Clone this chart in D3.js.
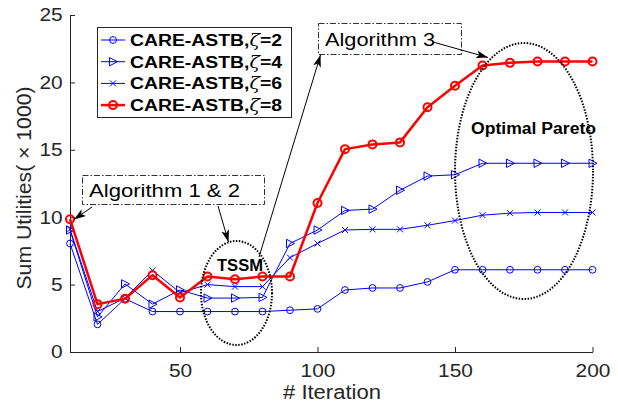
<!DOCTYPE html>
<html>
<head>
<meta charset="utf-8">
<script src="https://cdn.jsdelivr.net/npm/d3@7"></script>
<style>
  body { margin: 0; background: #fff; }
  text { font-family: "Liberation Sans", Arial, Helvetica, sans-serif; }
</style>
</head>
<body>
<div id="chart"></div>
<script>
// iterations on the x axis
var iterations = [10, 20, 30, 40, 50, 60, 70, 80, 90, 100, 110, 120, 130, 140, 150, 160, 170, 180, 190, 200];

// sum utilities (x 1000) per zeta
var zeta2 = [8.05, 2.05, 3.95, 3.0, 3.0, 3.0, 3.0, 3.0, 3.1, 3.2, 4.6, 4.75, 4.75, 5.2, 6.1, 6.1, 6.1, 6.1, 6.1, 6.1];
var zeta4 = [9.05, 2.6, 5.05, 3.55, 4.6, 4.0, 4.0, 4.05, 8.05, 9.05, 10.5, 10.6, 12.0, 13.05, 13.15, 14.0, 14.0, 14.0, 14.0, 14.0];
var zeta6 = [9.1, 3.0, 4.0, 6.05, 4.4, 5.0, 4.85, 4.85, 7.0, 8.05, 9.05, 9.1, 9.1, 9.4, 9.75, 10.15, 10.3, 10.35, 10.35, 10.35];
var zeta8 = [9.85, 3.55, 3.95, 5.7, 4.05, 5.6, 5.4, 5.6, 5.6, 11.05, 15.05, 15.4, 15.55, 18.15, 19.75, 21.25, 21.45, 21.55, 21.55, 21.55];

var xTicks = [50, 100, 150, 200];
var yTicks = [0, 5, 10, 15, 20, 25];
var seriesNames = ["2", "4", "6", "8"];

var W = 618, H = 404;
var axisColor = "#262626";

var svg = d3.select("#chart")
    .append("svg")
    .attr("width", W)
    .attr("height", H);

var defs = svg.append("defs");
defs.append("marker")
    .attr("id", "arrow")
    .attr("markerUnits", "userSpaceOnUse")
    .attr("viewBox", "0 -5 12 10")
    .attr("refX", 12)
    .attr("refY", 0)
    .attr("markerWidth", 12)
    .attr("markerHeight", 10)
    .attr("orient", "auto")
    .append("path")
    .attr("d", "M0,-4L12,0L0,4L3,0Z")
    .attr("fill", "#000");

var x = d3.scaleLinear().domain([10, 200]).range([70, 592.5]);
var y = d3.scaleLinear().domain([0, 25]).range([352, 15]);

// axes (MATLAB style, ticks pointing in)
var xAxis = svg.append("g")
    .attr("transform", "translate(0," + y(0) + ")")
    .call(d3.axisBottom(x).tickValues(xTicks).tickSizeInner(-5).tickSizeOuter(0).tickPadding(12));
var yAxis = svg.append("g")
    .attr("transform", "translate(" + x(10) + ",0)")
    .call(d3.axisLeft(y).tickValues(yTicks).tickSizeInner(-5).tickSizeOuter(0).tickPadding(7));

[xAxis, yAxis].forEach(function(g) {
    g.select(".domain").attr("stroke", axisColor);
    g.selectAll(".tick line").attr("stroke", axisColor);
    g.selectAll(".tick text")
        .attr("fill", axisColor)
        .style("font-size", "18.5px");
});
xAxis.selectAll(".tick text").attr("transform", "scale(1.13,1)");
yAxis.selectAll(".tick text").attr("transform", "scale(1.13,1)").attr("x", -6.5);

svg.append("text")
    .attr("x", 332)
    .attr("y", 399)
    .attr("text-anchor", "middle")
    .attr("fill", axisColor)
    .attr("textLength", 98)
    .attr("lengthAdjust", "spacingAndGlyphs")
    .style("font-size", "20px")
    .text("# Iteration");

svg.append("text")
    .attr("transform", "translate(31,188) rotate(-90)")
    .attr("text-anchor", "middle")
    .attr("fill", axisColor)
    .attr("textLength", 203)
    .attr("lengthAdjust", "spacingAndGlyphs")
    .style("font-size", "20.5px")
    .text("Sum Utilities( \u00d7 1000)");

// series
var series = [
    {name: "2", values: zeta2, color: "#0000ff", width: 1, marker: "circle"},
    {name: "4", values: zeta4, color: "#0000ff", width: 1, marker: "triangle"},
    {name: "6", values: zeta6, color: "#0000ff", width: 1, marker: "cross"},
    {name: "8", values: zeta8, color: "#ff0000", width: 2.5, marker: "bigcircle"}
];

var line = d3.line()
    .x(function(d) { return x(d[0]); })
    .y(function(d) { return y(d[1]); });

function drawMarker(g, kind, color) {
    if (kind == "circle") {
        g.append("circle").attr("r", 3.4).attr("fill", "none").attr("stroke", color).attr("stroke-width", 1);
    } else if (kind == "bigcircle") {
        g.append("circle").attr("r", 4).attr("fill", "none").attr("stroke", color).attr("stroke-width", 2);
    } else if (kind == "triangle") {
        g.append("path").attr("d", "M-3.5,-4.2L4.5,0L-3.5,4.2Z").attr("fill", "none").attr("stroke", color).attr("stroke-width", 1);
    } else if (kind == "cross") {
        g.append("path").attr("d", "M-3,-3L3,3M-3,3L3,-3").attr("fill", "none").attr("stroke", color).attr("stroke-width", 1);
    }
}

series.forEach(function(s) {
    var pts = iterations.map(function(it, i) { return [it, s.values[i]]; });
    var g = svg.append("g");
    g.append("path")
        .attr("d", line(pts))
        .attr("fill", "none")
        .attr("stroke", s.color)
        .attr("stroke-width", s.width)
        .attr("stroke-linejoin", "round");
    g.selectAll(".pt")
        .data(pts)
        .enter()
        .append("g")
        .attr("class", "pt")
        .attr("transform", function(d) { return "translate(" + x(d[0]) + "," + y(d[1]) + ")"; })
        .each(function() { drawMarker(d3.select(this), s.marker, s.color); });
});

// legend
var legend = svg.append("g");
legend.append("rect")
    .attr("x", 97.5).attr("y", 27.5)
    .attr("width", 194).attr("height", 90)
    .attr("fill", "#fff")
    .attr("stroke", axisColor)
    .attr("stroke-width", 1);

series.forEach(function(s, i) {
    var ly = 40 + i * 21.7;
    var row = legend.append("g");
    row.append("line")
        .attr("x1", 101).attr("x2", 125)
        .attr("y1", ly).attr("y2", ly)
        .attr("stroke", s.color)
        .attr("stroke-width", s.width);
    drawMarker(row.append("g").attr("transform", "translate(113," + ly + ")"), s.marker, s.color);
    var t = row.append("text")
        .attr("x", 130)
        .attr("y", ly + 6)
        .attr("textLength", 152)
        .attr("lengthAdjust", "spacingAndGlyphs")
        .style("font-size", "16px")
        .style("font-weight", "bold")
        .attr("fill", "#000");
    t.append("tspan").text("CARE-ASTB,");
    t.append("tspan").style("font-style", "italic").style("font-weight", "normal").attr("font-family", "DejaVu Serif").text("\u03b6");
    t.append("tspan").text("=" + seriesNames[i]);
});

// annotations
var ann = svg.append("g");

ann.append("ellipse")
    .attr("cx", 236.5).attr("cy", 293)
    .attr("rx", 35.5).attr("ry", 52)
    .attr("fill", "none")
    .attr("stroke", "#000")
    .attr("stroke-width", 2)
    .attr("stroke-dasharray", "1.5,1.5");

ann.append("ellipse")
    .attr("cx", 524).attr("cy", 171)
    .attr("rx", 69).attr("ry", 128)
    .attr("fill", "none")
    .attr("stroke", "#000")
    .attr("stroke-width", 2)
    .attr("stroke-dasharray", "1.5,1.5");

ann.append("text")
    .attr("x", 217).attr("y", 271)
    .attr("textLength", 46)
    .attr("lengthAdjust", "spacingAndGlyphs")
    .style("font-size", "16px")
    .style("font-weight", "bold")
    .text("TSSM");

ann.append("text")
    .attr("x", 471).attr("y", 133.5)
    .attr("textLength", 125)
    .attr("lengthAdjust", "spacingAndGlyphs")
    .style("font-size", "16px")
    .style("font-weight", "bold")
    .text("Optimal Pareto");

var boxes = [
    {x0: 82.5, y0: 175.5, x1: 264.5, y1: 204.5, tx: 89, ty: 196.5, len: 151, label: "Algorithm 1 & 2"},
    {x0: 318.5, y0: 23.5, x1: 461.5, y1: 54.5, tx: 325, ty: 46, len: 110, label: "Algorithm 3"}
];
boxes.forEach(function(b) {
    ann.append("rect")
        .attr("x", b.x0).attr("y", b.y0)
        .attr("width", b.x1 - b.x0).attr("height", b.y1 - b.y0)
        .attr("fill", "#fff")
        .attr("stroke", "#333")
        .attr("stroke-width", 1)
        .attr("stroke-dasharray", "6,2,1.5,2");
    ann.append("text")
        .attr("x", b.tx).attr("y", b.ty)
        .attr("textLength", b.len)
        .attr("lengthAdjust", "spacingAndGlyphs")
        .style("font-size", "18.5px")
        .attr("fill", "#000")
        .text(b.label);
});

var arrows = [
    [92, 207, 74, 219.5],
    [218, 206, 228.5, 242],
    [259, 257, 320.5, 55],
    [433, 42, 488, 57.5]
];
arrows.forEach(function(a) {
    ann.append("line")
        .attr("x1", a[0]).attr("y1", a[1])
        .attr("x2", a[2]).attr("y2", a[3])
        .attr("stroke", "#000")
        .attr("stroke-width", 1)
        .attr("marker-end", "url(#arrow)");
});
</script>
</body>
</html>
